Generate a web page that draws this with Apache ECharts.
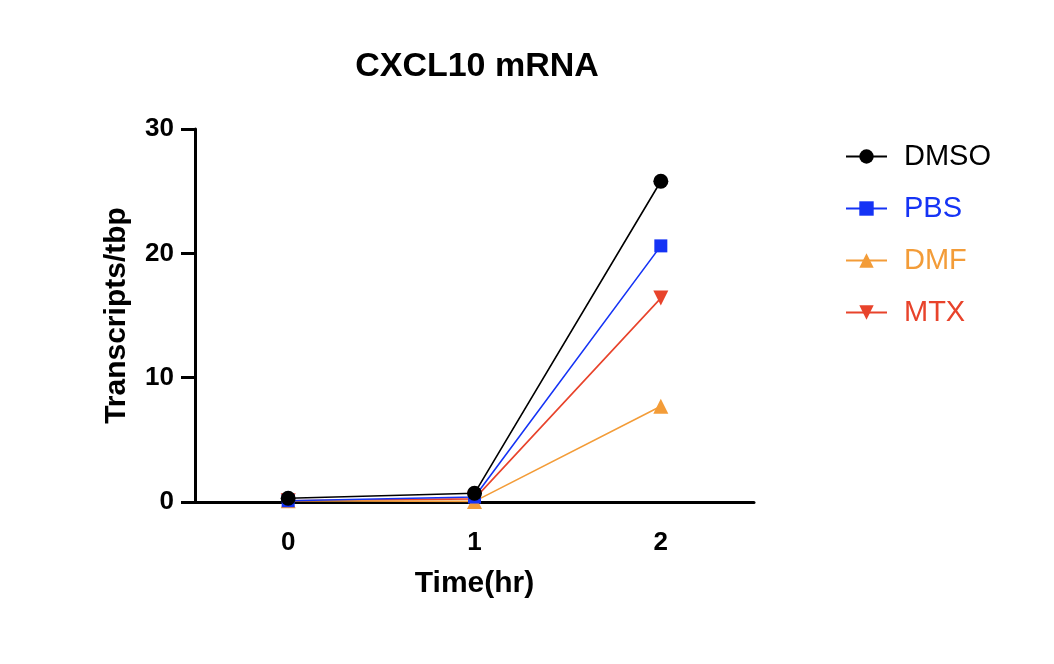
<!DOCTYPE html>
<html><head><meta charset="utf-8">
<script src="https://cdn.jsdelivr.net/npm/echarts@6/dist/echarts.min.js"></script>
<style>html,body{margin:0;padding:0;background:#fff}#c{width:1054px;height:664px}</style>
</head><body><div id="c"></div>
<script>
const categories = ['0', '1', '2'];
const seriesNames = ['DMSO', 'PBS', 'DMF', 'MTX'];
const dmso = [0.3, 0.7, 25.8];
const pbs = [0.1, 0.4, 20.6];
const dmf = [0.1, 0.05, 7.7];
const mtx = [0.1, 0.25, 16.4];
const yTicks = [0, 10, 20, 30];

const colors = ['#000000', '#1533F5', '#F39C38', '#E8432B'];
const symbols = ['circle', 'rect', 'triangle', 'triangle'];
const sizes = [15, 13, 15, 15];
const rot = [0, 0, 0, 180];
const vals = [dmso, pbs, dmf, mtx];
const font = 'Liberation Sans, Arial, Helvetica, sans-serif';

const chart = echarts.init(document.getElementById('c'));
chart.setOption({
  animation: false,
  title: { text: 'CXCL10 mRNA', left: 472, top: 45, textAlign: 'center',
    textStyle: { fontFamily: font, fontSize: 34, fontWeight: 'bold', color: '#000' } },
  grid: { left: 195, right: 300, top: 129, bottom: 162, containLabel: false },
  legend: {
    orient: 'vertical', left: 840, top: 137, itemGap: 23, itemWidth: 41, itemHeight: 18,
    textStyle: { fontFamily: font, fontSize: 29, padding: [0, 0, 0, 12] },
    data: seriesNames.map((n, i) => ({ name: n, textStyle: { color: colors[i] } }))
  },
  xAxis: {
    type: 'category', data: categories, boundaryGap: true,
    name: 'Time(hr)', nameLocation: 'middle', nameGap: 67,
    nameTextStyle: { fontFamily: font, fontSize: 30, fontWeight: 'bold', color: '#000' },
    axisLine: { lineStyle: { color: '#000', width: 3 } },
    axisTick: { alignWithLabel: true, length: 14, lineStyle: { width: 3, color: '#000' } },
    axisLabel: { fontFamily: font, fontSize: 26, fontWeight: 'bold', color: '#000', margin: 28 }
  },
  yAxis: {
    type: 'value', min: 0, max: 30, interval: 10,
    name: 'Transcripts/tbp', nameLocation: 'middle', nameGap: 63,
    nameTextStyle: { fontFamily: font, fontSize: 30, fontWeight: 'bold', color: '#000' },
    axisLine: { show: true, lineStyle: { color: '#000', width: 3 } },
    axisTick: { show: true, length: 14, lineStyle: { width: 3, color: '#000' } },
    splitLine: { show: false },
    axisLabel: { fontFamily: font, fontSize: 26, fontWeight: 'bold', color: '#000', margin: 21 }
  },
  series: seriesNames.map((n, i) => ({
    name: n, type: 'line', data: vals[i],
    symbol: symbols[i], symbolSize: sizes[i], symbolRotate: rot[i],
    itemStyle: { color: colors[i] },
    lineStyle: { color: colors[i], width: 1.6 },
    z: 10 - i
  })).reverse()
});
</script>
</body></html>
